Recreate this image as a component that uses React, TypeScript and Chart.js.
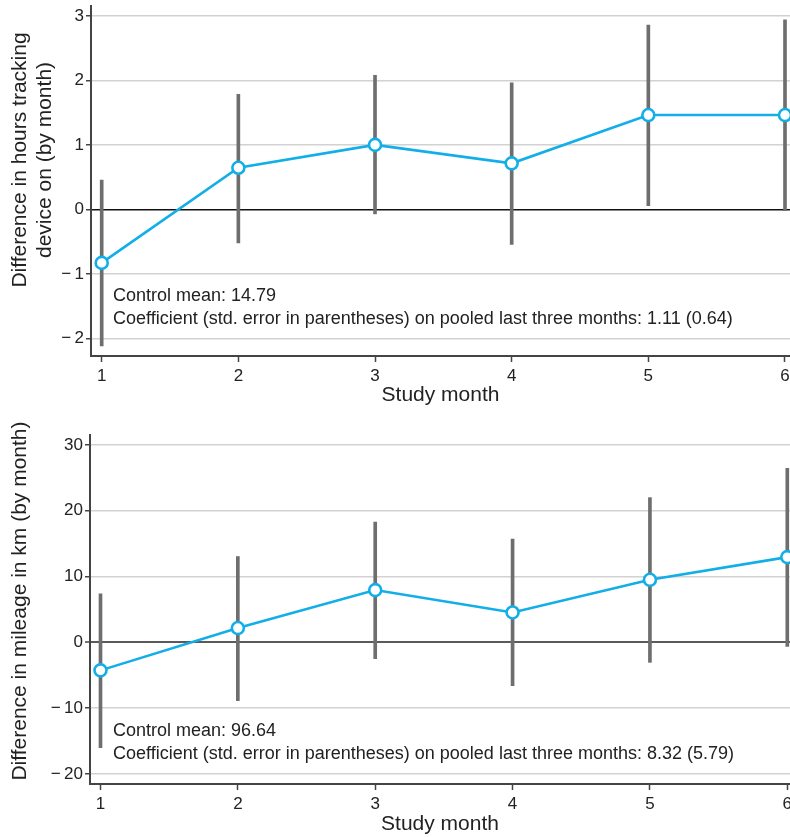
import React, { useEffect, useRef } from "react";
import { Chart, registerables } from "chart.js";

Chart.register(...registerables);

// ---- data ----
const months = [1, 2, 3, 4, 5, 6];
const monthTicks = [1, 2, 3, 4, 5, 6];

const hoursCoef = [-0.83, 0.645, 1.0, 0.714, 1.463, 1.463];
const hoursLow = [-2.12, -0.52, -0.07, -0.545, 0.056, -0.02];
const hoursHigh = [0.455, 1.785, 2.08, 1.965, 2.86, 2.94];
const hoursTicks = [-2, -1, 0, 1, 2, 3];
const hoursTitle = ["Difference in hours tracking", "device on (by month)"];
const hoursNote = [
  "Control mean: 14.79",
  "Coefficient (std. error in parentheses) on pooled last three months: 1.11 (0.64)",
];

const kmCoef = [-4.25, 2.18, 7.95, 4.55, 9.51, 12.96];
const kmLow = [-16.0, -8.85, -2.47, -6.57, -3.03, -0.6];
const kmHigh = [7.39, 13.05, 18.27, 15.7, 22.0, 26.46];
const kmTicks = [-20, -10, 0, 10, 20, 30];
const kmTitle = ["Difference in mileage in km (by month)"];
const kmNote = [
  "Control mean: 96.64",
  "Coefficient (std. error in parentheses) on pooled last three months: 8.32 (5.79)",
];

const xTitle = "Study month";

// ---- style ----
const FONT = '"Liberation Sans", Arial, Helvetica, sans-serif';
const TEXT = "#222";
const BLUE = "#12aee8";
const BAR = "#6e6e6e";
const GRID = "#d2d2d2";
const AXIS = "#444";

type Spec = {
  width: number;
  height: number;
  padTop: number;
  xHeight: number;
  yWidth: number;
  xMin: number;
  xMax: number;
  yMin: number;
  yMax: number;
  yTicks: number[];
  coef: number[];
  low: number[];
  high: number[];
  zeroColor: string;
  zeroWidth: number;
  title: string[];
  titleX: number;
  titleY: number;
  note: string[];
  noteDx: number;
  noteY: number;
  xTitlePad: number;
};

const fmt = (v: number) => (v < 0 ? "\u2212\u2009" + Math.abs(v) : String(v));

function makeChart(canvas: HTMLCanvasElement, s: Spec) {
  const textPlugin = {
    id: "panelText",
    afterDraw(chart: any) {
      const ctx = chart.ctx as CanvasRenderingContext2D;
      ctx.save();
      ctx.fillStyle = TEXT;
      ctx.font = `21px ${FONT}`;
      ctx.textAlign = "center";
      ctx.textBaseline = "middle";
      s.title.forEach((line, i) => {
        ctx.save();
        ctx.translate(s.titleX + i * 25, s.titleY);
        ctx.rotate(-Math.PI / 2);
        ctx.fillText(line, 0, 0);
        ctx.restore();
      });
      ctx.font = `18px ${FONT}`;
      ctx.textAlign = "left";
      s.note.forEach((line, i) => {
        ctx.fillText(line, chart.chartArea.left + s.noteDx, s.noteY + i * 23);
      });
      ctx.restore();
    },
  };

  return new Chart(canvas, {
    type: "line",
    data: {
      datasets: [
        {
          type: "line",
          data: months.map((m, i) => ({ x: m, y: s.coef[i] })),
          borderColor: BLUE,
          borderWidth: 2.6,
          pointRadius: 6,
          pointBorderWidth: 2.6,
          pointBackgroundColor: "#ffffff",
          pointBorderColor: BLUE,
          order: 0,
          clip: false as any,
        },
        {
          type: "bar",
          data: months.map((m, i) => ({ x: m, y: [s.low[i], s.high[i]] })) as any,
          backgroundColor: BAR,
          borderWidth: 0,
          barThickness: 3,
          order: 1,
        } as any,
      ],
    },
    options: {
      animation: false,
      responsive: false,
      devicePixelRatio: 1,
      layout: {
        autoPadding: false,
        padding: { top: s.padTop, left: 0, right: 0, bottom: 0 },
      },
      plugins: { legend: { display: false }, tooltip: { enabled: false } },
      events: [],
      scales: {
        x: {
          type: "linear",
          offset: false,
          min: s.xMin,
          max: s.xMax,
          afterBuildTicks: (sc: any) => {
            sc.ticks = monthTicks.map((v) => ({ value: v }));
          },
          afterFit: (sc: any) => {
            sc.height = s.xHeight;
            sc.paddingLeft = 0;
            sc.paddingRight = 0;
          },
          grid: {
            offset: false,
            drawOnChartArea: false,
            drawTicks: true,
            tickLength: 6,
            tickColor: AXIS,
            tickWidth: 1.5,
          },
          border: { display: true, color: AXIS, width: 2 },
          ticks: {
            color: TEXT,
            font: { family: FONT, size: 17 },
            padding: 4,
            maxRotation: 0,
            autoSkip: false,
          },
          title: {
            display: true,
            text: xTitle,
            color: TEXT,
            font: { family: FONT, size: 21 },
            padding: { top: 0, bottom: s.xTitlePad },
          },
        },
        y: {
          type: "linear",
          min: s.yMin,
          max: s.yMax,
          afterBuildTicks: (sc: any) => {
            sc.ticks = s.yTicks.map((v) => ({ value: v }));
          },
          afterFit: (sc: any) => {
            sc.width = s.yWidth;
            sc.paddingTop = 0;
            sc.paddingBottom = 0;
          },
          grid: {
            color: (c: any) => (c.tick && c.tick.value === 0 ? s.zeroColor : GRID),
            lineWidth: (c: any) => (c.tick && c.tick.value === 0 ? s.zeroWidth : 1.5),
            drawTicks: true,
            tickLength: 5,
            tickColor: AXIS,
            tickWidth: 1.5,
          },
          border: { display: true, color: AXIS, width: 2 },
          ticks: {
            color: TEXT,
            font: { family: FONT, size: 17 },
            padding: 2,
            autoSkip: false,
            callback: (v: any) => fmt(Number(v)),
          },
        },
      },
    } as any,
    plugins: [textPlugin as any],
  });
}

function Panel({ spec, top }: { spec: Spec; top: number }) {
  const ref = useRef<HTMLCanvasElement | null>(null);
  useEffect(() => {
    if (!ref.current) return;
    const chart = makeChart(ref.current, spec);
    return () => chart.destroy();
  }, [spec]);
  return (
    <canvas
      ref={ref}
      width={spec.width}
      height={spec.height}
      style={{
        position: "absolute",
        left: 0,
        top,
        width: spec.width,
        height: spec.height,
        display: "block",
      }}
    />
  );
}

const topSpec: Spec = {
  width: 790,
  height: 412,
  padTop: 6,
  xHeight: 56,
  yWidth: 91,
  xMin: 0.9217,
  xMax: 6.0366,
  yMin: -2.2746,
  yMax: 3.155,
  yTicks: hoursTicks,
  coef: hoursCoef,
  low: hoursLow,
  high: hoursHigh,
  zeroColor: "#111",
  zeroWidth: 1.5,
  title: hoursTitle,
  titleX: 20,
  titleY: 160,
  note: hoursNote,
  noteDx: 22,
  noteY: 296,
  xTitlePad: 4,
};

const bottomSpec: Spec = {
  width: 790,
  height: 425,
  padTop: 23,
  xHeight: 53,
  yWidth: 90,
  xMin: 0.9236,
  xMax: 6.0197,
  yMin: -21.518,
  yMax: 31.518,
  yTicks: kmTicks,
  coef: kmCoef,
  low: kmLow,
  high: kmHigh,
  zeroColor: "#5a5a5a",
  zeroWidth: 2,
  title: kmTitle,
  titleX: 20,
  titleY: 601 - 412,
  note: kmNote,
  noteDx: 23,
  noteY: 731 - 412,
  xTitlePad: 0,
};

export default function App() {
  return (
    <div
      style={{
        position: "absolute",
        left: 0,
        top: 0,
        width: 790,
        height: 837,
        overflow: "hidden",
        background: "#fff",
      }}
    >
      <Panel spec={topSpec} top={0} />
      <Panel spec={bottomSpec} top={412} />
    </div>
  );
}
